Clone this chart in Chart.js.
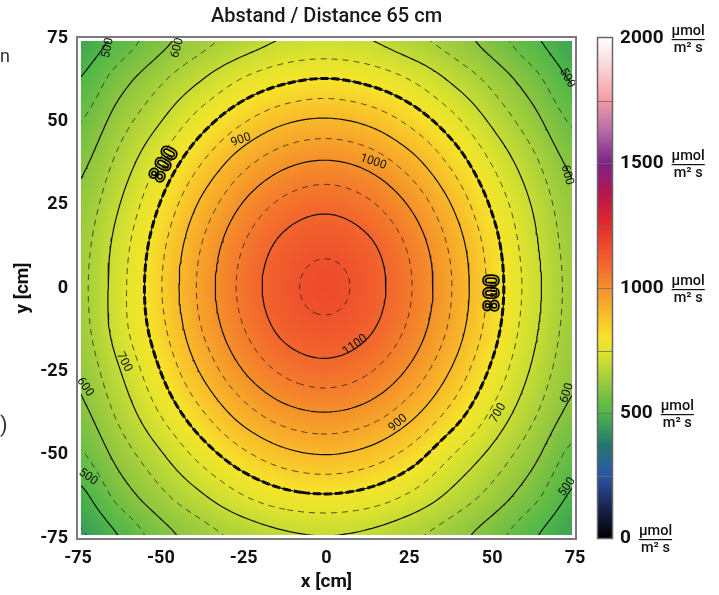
<!DOCTYPE html>
<html>
<head>
<meta charset="utf-8">
<script src="https://cdn.jsdelivr.net/npm/chart.js@4/dist/chart.umd.min.js"></script>
<style>
    body { margin: 0; background: #fff; }
    .wrap { position: relative; width: 719px; height: 595px; }
    .clip { position: absolute; left: 0; font: 18px Roboto, sans-serif; color: #333; }
</style>
</head>
<body>
<div class="wrap">
    <canvas id="chart" width="719" height="595"></canvas>
    <span class="clip" style="top:45px">n</span>
    <span class="clip" style="top:412px;font-size:22px">)</span>
</div>
<script>
// grid positions in cm
const xValues = [-75, -62.5, -50, -37.5, -25, -12.5, 0, 12.5, 25, 37.5, 50, 62.5, 75];
const yValues = [75, 62.5, 50, 37.5, 25, 12.5, 0, -12.5, -25, -37.5, -50, -62.5, -75];

// PPFD in umol/m2s, one row per y value (top row first)
const intensity = [
    [461, 516, 582, 632, 670, 702, 710, 700, 666, 627, 575, 509, 457],
    [500, 577, 642, 700, 755, 790, 803, 787, 750, 694, 635, 568, 492],
    [546, 626, 699, 778, 846, 893, 908, 889, 839, 770, 691, 618, 540],
    [585, 666, 757, 851, 934, 988, 1006, 984, 925, 841, 747, 662, 585],
    [612, 699, 804, 913, 1005, 1065, 1086, 1060, 996, 901, 792, 694, 612],
    [628, 723, 836, 953, 1051, 1116, 1138, 1111, 1042, 941, 823, 712, 625],
    [633, 731, 847, 966, 1066, 1133, 1166, 1127, 1056, 953, 833, 720, 630],
    [627, 727, 834, 951, 1048, 1114, 1135, 1108, 1039, 939, 822, 711, 626],
    [610, 697, 801, 908, 1000, 1060, 1080, 1055, 991, 897, 789, 690, 612],
    [583, 663, 754, 845, 927, 981, 998, 977, 919, 835, 742, 658, 582],
    [540, 620, 694, 771, 838, 884, 900, 881, 831, 754, 686, 614, 532],
    [482, 568, 637, 694, 748, 783, 794, 780, 742, 688, 631, 564, 489],
    [440, 500, 576, 626, 664, 689, 697, 687, 660, 621, 570, 505, 454],
];

const contourLevels = [450, 500, 550, 600, 650, 700, 750, 800, 850, 900, 950, 1000, 1050, 1100, 1150];

// contour labels: text, position (cm), rotation (deg)
const labelText  = ['500', '600', '900', '1000', '1100', '700', '600', '500', '900', '700', '600', '500', '500', '600'];
const labelX     = [-66, -45, -25.8, 14.1, 8.6, -61.1, -72.9, -72, 21.6, 51.8, 72.6, 72.6, 72.6, 72.6];
const labelY     = [72, 72, 44.4, 37.8, -17.1, -22.2, -29.7, -56.7, -40.5, -37.5, -31.5, -59.7, 63, 33.9];
const labelAngle = [-78, -75, -20, 18, -35, 62, 55, 35, -40, -60, -72, -55, 60, 75];
const bigLabelX = [-48.7, 50.3];
const bigLabelY = [36.9, -1.5];
const bigLabelAngle = [-62, -90];

// colour scale
const cbStops  = [0, 125, 250, 375, 500, 600, 700, 750, 800, 900, 1000, 1100, 1200, 1250, 1375, 1500, 1625, 1750, 1875, 2000];
const cbColors = ['#000000', '#1a2550', '#2a55a5', '#23786e', '#4fb748', '#8cc540', '#c6dc34', '#e2e42c', '#f6e42b',
                  '#f9b92a', '#f5902a', '#f2652d', '#ec3e2c', '#e62a2b', '#b5184c', '#7d2088', '#b36aa8',
                  '#f59aa4', '#f9d2d3', '#ffffff'];
const cbTicks  = [0, 500, 1000, 1500, 2000];

function hexToRgb(h) {
    return [parseInt(h.slice(1, 3), 16), parseInt(h.slice(3, 5), 16), parseInt(h.slice(5, 7), 16)];
}
const cbRgb = cbColors.map(hexToRgb);

function colorFor(v) {
    if (v <= cbStops[0]) return cbRgb[0];
    for (let i = 1; i < cbStops.length; i++) {
        if (v <= cbStops[i]) {
            const t = (v - cbStops[i - 1]) / (cbStops[i] - cbStops[i - 1]);
            const a = cbRgb[i - 1], b = cbRgb[i];
            return [a[0] + (b[0] - a[0]) * t, a[1] + (b[1] - a[1]) * t, a[2] + (b[2] - a[2]) * t];
        }
    }
    return cbRgb[cbRgb.length - 1];
}

// catmull-rom weights
function crWeights(t) {
    const t2 = t * t, t3 = t2 * t;
    return [(-t3 + 2 * t2 - t) / 2, (3 * t3 - 5 * t2 + 2) / 2, (-3 * t3 + 4 * t2 + t) / 2, (t3 - t2) / 2];
}

// smooth rendering of the measured grid
function field(x, y) {
    const n = xValues.length, m = yValues.length;
    const step = xValues[1] - xValues[0];
    const gx = (x - xValues[0]) / step;
    const gy = (yValues[0] - y) / step;
    const i = Math.min(n - 2, Math.floor(gx)), j = Math.min(m - 2, Math.floor(gy));
    const wx = crWeights(gx - i), wy = crWeights(gy - j);
    let v = 0;
    for (let b = 0; b < 4; b++) {
        const r = Math.min(m - 1, Math.max(0, j - 1 + b));
        let row = 0;
        for (let a = 0; a < 4; a++) {
            const c = Math.min(n - 1, Math.max(0, i - 1 + a));
            row += wx[a] * intensity[r][c];
        }
        v += wy[b] * row;
    }
    return v;
}

// sample field on a fine grid for contour tracing
const fineStep = 1.25;
const fineN = Math.round(150 / fineStep);
const fine = [];
for (let j = 0; j <= fineN; j++) {
    const row = [];
    for (let k = 0; k <= fineN; k++) row.push(field(-75 + k * fineStep, -75 + j * fineStep));
    fine.push(row);
}

function traceContour(level) {
    const pts = {}, adj = {};
    const link = (a, b) => {
        (adj[a] = adj[a] || []).push(b);
        (adj[b] = adj[b] || []).push(a);
    };
    const cross = (key, k0, j0, k1, j1) => {
        const v0 = fine[j0][k0], v1 = fine[j1][k1];
        if ((v0 >= level) === (v1 >= level)) return null;
        if (!(key in pts)) {
            const t = (level - v0) / (v1 - v0);
            pts[key] = {
                x: -75 + (k0 + (k1 - k0) * t) * fineStep,
                y: -75 + (j0 + (j1 - j0) * t) * fineStep,
            };
        }
        return key;
    };
    for (let j = 0; j < fineN; j++) {
        for (let k = 0; k < fineN; k++) {
            const e = [
                cross('h' + k + '_' + j, k, j, k + 1, j),
                cross('v' + (k + 1) + '_' + j, k + 1, j, k + 1, j + 1),
                cross('h' + k + '_' + (j + 1), k, j + 1, k + 1, j + 1),
                cross('v' + k + '_' + j, k, j, k, j + 1),
            ].filter(Boolean);
            if (e.length === 2) link(e[0], e[1]);
            else if (e.length === 4) { link(e[0], e[1]); link(e[2], e[3]); }
        }
    }
    const visited = new Set();
    const lines = [];
    const walk = (start) => {
        const line = [pts[start]];
        visited.add(start);
        let cur = start;
        while (true) {
            const next = adj[cur].find(n => !visited.has(n));
            if (!next) break;
            visited.add(next);
            line.push(pts[next]);
            cur = next;
        }
        if (adj[start].length === 2 && adj[cur].includes(start)) line.push(pts[start]);
        lines.push(line);
    };
    Object.keys(adj).forEach(key => { if (adj[key].length === 1 && !visited.has(key)) walk(key); });
    Object.keys(adj).forEach(key => { if (!visited.has(key)) walk(key); });
    return lines;
}

const datasets = [];
contourLevels.forEach(level => {
    const dashed = level % 100 !== 0;
    traceContour(level).forEach(line => {
        datasets.push({
            data: line,
            showLine: true,
            pointRadius: 0,
            borderColor: dashed ? 'rgba(30,30,30,0.85)' : '#111',
            borderWidth: dashed ? 0.9 : 1.2,
            borderDash: dashed ? [6, 5] : [],
            tension: 0,
        });
        if (level === 800) {
            datasets.push({
                data: line,
                showLine: true,
                pointRadius: 0,
                borderColor: '#000',
                borderWidth: 3,
                borderDash: [8, 3],
                tension: 0,
            });
        }
    });
});

const heatmapPlugin = {
    id: 'heatmap',
    beforeDatasetsDraw(chart) {
        const { ctx, chartArea, scales } = chart;
        const inset = 3;
        const left = Math.round(chartArea.left) + inset, top = Math.round(chartArea.top) + inset;
        const w = Math.round(chartArea.right) - inset - left, h = Math.round(chartArea.bottom) - inset - top;
        const img = ctx.createImageData(w, h);
        for (let py = 0; py < h; py++) {
            const y = scales.y.getValueForPixel(top + py + 0.5);
            for (let px = 0; px < w; px++) {
                const x = scales.x.getValueForPixel(left + px + 0.5);
                const c = colorFor(field(x, y));
                const o = (py * w + px) * 4;
                img.data[o] = c[0];
                img.data[o + 1] = c[1];
                img.data[o + 2] = c[2];
                img.data[o + 3] = 255;
            }
        }
        ctx.putImageData(img, left, top);
        ctx.save();
        ctx.beginPath();
        ctx.rect(left, top, w, h);
        ctx.clip();
    },
    afterDatasetsDraw(chart) {
        const { ctx, chartArea, scales } = chart;
        ctx.restore();
        ctx.save();
        // labels on the contour lines
        ctx.fillStyle = '#111';
        ctx.textAlign = 'center';
        ctx.textBaseline = 'middle';
        ctx.font = '12px Roboto, sans-serif';
        labelText.forEach((t, i) => {
            ctx.save();
            ctx.translate(scales.x.getPixelForValue(labelX[i]), scales.y.getPixelForValue(labelY[i]));
            ctx.rotate(labelAngle[i] * Math.PI / 180);
            ctx.fillText(t, 0, 0);
            ctx.restore();
        });
        bigLabelX.forEach((x, i) => {
            ctx.save();
            ctx.translate(scales.x.getPixelForValue(x), scales.y.getPixelForValue(bigLabelY[i]));
            ctx.rotate(bigLabelAngle[i] * Math.PI / 180);
            ctx.font = 'bold 22px Roboto, sans-serif';
            ctx.lineWidth = 1.6;
            ctx.strokeStyle = '#000';
            ctx.strokeText('800', 0, 0);
            ctx.fillStyle = 'rgba(0,0,0,0.2)';
            ctx.fillText('800', 0, 0);
            ctx.font = '9px Roboto, sans-serif';
            ctx.fillStyle = '#000';
            ctx.fillText('800', 3, 2);
            ctx.restore();
        });
        // frame
        const { left, top, right, bottom } = chartArea;
        ctx.strokeStyle = '#7a7a7a';
        ctx.lineWidth = 2;
        ctx.strokeRect(left - 1, top - 1, right - left + 2, bottom - top + 2);
        ctx.restore();
    },
};

const colorbarPlugin = {
    id: 'colorbar',
    afterDraw(chart) {
        const { ctx, scales } = chart;
        const cb = scales.cb;
        const x0 = 598, bw = 14;
        const top = Math.round(cb.getPixelForValue(2000)), bottom = Math.round(cb.getPixelForValue(0));
        ctx.save();
        for (let py = top; py < bottom; py++) {
            const c = colorFor(cb.getValueForPixel(py + 0.5));
            ctx.fillStyle = 'rgb(' + c.map(Math.round).join(',') + ')';
            ctx.fillRect(x0, py, bw, 1);
        }
        ctx.strokeStyle = 'rgba(110,110,110,0.8)';
        ctx.lineWidth = 1;
        for (let v = 250; v < 2000; v += 250) {
            const py = Math.round(cb.getPixelForValue(v)) + 0.5;
            ctx.beginPath();
            ctx.moveTo(x0, py);
            ctx.lineTo(x0 + bw, py);
            ctx.stroke();
        }
        ctx.strokeStyle = '#666';
        ctx.lineWidth = 1.5;
        ctx.strokeRect(x0 - 0.5, top - 0.5, bw + 1, bottom - top + 1);

        ctx.fillStyle = '#111';
        ctx.textBaseline = 'middle';
        cbTicks.forEach(v => {
            const py = cb.getPixelForValue(v);
            ctx.textAlign = 'left';
            ctx.font = 'bold 19px Roboto, sans-serif';
            const num = String(v);
            ctx.fillText(num, 620, py);
            const ux = 620 + ctx.measureText(num).width + 8;
            ctx.font = '500 14.5px Roboto, sans-serif';
            const uw = ctx.measureText('µmol').width;
            ctx.fillText('µmol', ux, py - 7);
            ctx.fillRect(ux, py + 1, uw, 1.2);
            ctx.textAlign = 'center';
            ctx.fillText('m² s', ux + uw / 2, py + 10);
        });
        ctx.restore();
    },
};

new Chart(document.getElementById('chart'), {
    type: 'scatter',
    data: { datasets },
    options: {
        responsive: false,
        animation: false,
        layout: { padding: { left: 4, right: 144, top: 0, bottom: 0 } },
        plugins: {
            legend: { display: false },
            tooltip: { enabled: false },
            title: {
                display: true,
                fullSize: false,
                text: 'Abstand / Distance 65 cm',
                color: '#1a1a1a',
                font: { family: 'Roboto', size: 20, weight: '500' },
                padding: { top: 5, bottom: 9 },
            },
        },
        scales: {
            x: {
                type: 'linear',
                min: -75,
                max: 75,
                afterFit: (s) => { s.height = 57; },
                grid: { display: false, drawTicks: false },
                border: { display: false },
                ticks: { stepSize: 25, padding: 10, color: '#111', font: { family: 'Roboto', size: 18, weight: 'bold' } },
                title: { display: true, text: 'x [cm]', color: '#111', padding: { top: 0, bottom: 1 },
                         font: { family: 'Roboto', size: 19, weight: 'bold' } },
            },
            y: {
                type: 'linear',
                min: -75,
                max: 75,
                afterFit: (s) => { s.width = 74; },
                grid: { display: false, drawTicks: false },
                border: { display: false },
                ticks: { stepSize: 25, padding: 10, color: '#111', font: { family: 'Roboto', size: 18, weight: 'bold' } },
                title: { display: true, text: 'y [cm]', color: '#111', padding: { top: 8, bottom: 0 },
                         font: { family: 'Roboto', size: 19, weight: 'bold' } },
            },
            cb: {
                type: 'linear',
                position: 'right',
                min: 0,
                max: 2000,
                display: false,
            },
        },
    },
    plugins: [heatmapPlugin, colorbarPlugin],
});
</script>
</body>
</html>
